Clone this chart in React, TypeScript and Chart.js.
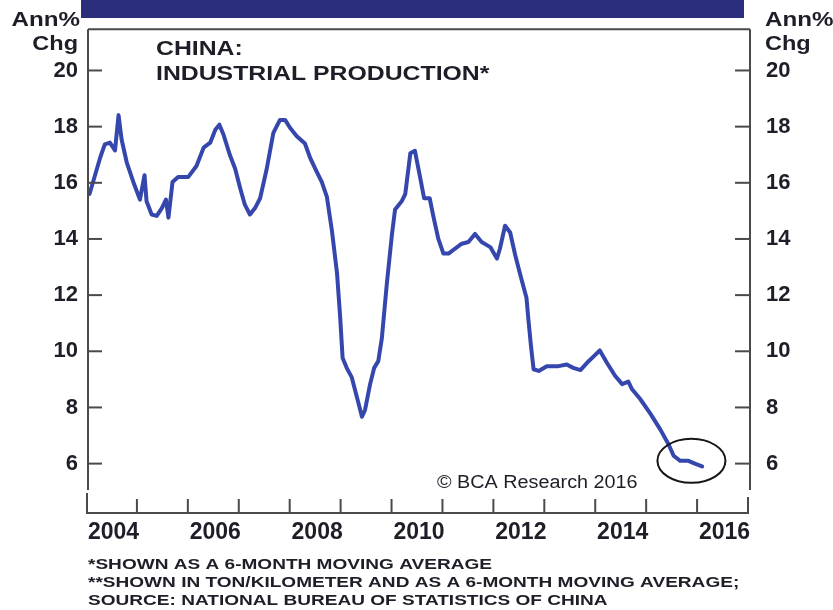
import { useEffect, useRef } from 'react';
import { Chart, registerables } from 'chart.js';

Chart.register(...registerables);

// ---- Data ----
const dates = [
  2004.03, 2004.24, 2004.33, 2004.43, 2004.53, 2004.6, 2004.66, 2004.76, 2004.89,
  2005.02, 2005.11, 2005.15, 2005.25, 2005.35, 2005.45, 2005.53, 2005.58, 2005.66, 2005.77, 2005.97,
  2006.13, 2006.27, 2006.4, 2006.5, 2006.58, 2006.66, 2006.79, 2006.89, 2006.99,
  2007.08, 2007.18, 2007.28, 2007.38, 2007.51, 2007.64, 2007.77, 2007.87, 2007.97,
  2008.1, 2008.26, 2008.36, 2008.49, 2008.59, 2008.69, 2008.79, 2008.89, 2008.95,
  2009.0, 2009.08, 2009.18, 2009.28, 2009.38, 2009.44, 2009.54, 2009.62, 2009.7, 2009.77, 2009.87, 2009.97,
  2010.03, 2010.16, 2010.23, 2010.33, 2010.42, 2010.52, 2010.6, 2010.71, 2010.78, 2010.88, 2010.98,
  2011.08, 2011.21, 2011.34, 2011.47, 2011.6, 2011.73, 2011.9,
  2012.03, 2012.09, 2012.19, 2012.29, 2012.39, 2012.49, 2012.61, 2012.65, 2012.7, 2012.75, 2012.85,
  2013.01, 2013.24, 2013.4, 2013.53, 2013.67, 2013.8, 2013.93,
  2014.05, 2014.19, 2014.35, 2014.49, 2014.61, 2014.68, 2014.84,
  2015.04, 2015.24, 2015.4, 2015.5, 2015.63, 2015.79, 2015.93, 2016.06,
];
const ipGrowth = [
  15.6, 16.9, 17.37, 17.43, 17.15, 18.41, 17.54, 16.73, 16.03,
  15.4, 16.27, 15.34, 14.87, 14.82, 15.1, 15.4, 14.76, 16.03, 16.21, 16.21,
  16.6, 17.25, 17.43, 17.89, 18.07, 17.72, 16.97, 16.5, 15.8,
  15.22, 14.87, 15.1, 15.45, 16.5, 17.78, 18.24, 18.24, 17.95,
  17.66, 17.4, 16.9, 16.4, 16.03, 15.51, 14.29, 12.78, 11.27,
  9.76, 9.41, 9.07, 8.37, 7.67, 7.91, 8.83, 9.41, 9.65, 10.46, 12.44, 14.18,
  15.05, 15.34, 15.6, 17.05, 17.14, 16.21, 15.45, 15.45, 14.82, 14.0, 13.48,
  13.48, 13.66, 13.83, 13.89, 14.18, 13.89, 13.71,
  13.3, 13.66, 14.47, 14.23, 13.42, 12.72, 11.91, 11.1, 10.17, 9.36, 9.3,
  9.47, 9.47, 9.53, 9.41, 9.33, 9.59, 9.82,
  10.03, 9.59, 9.13, 8.83, 8.92, 8.66, 8.31,
  7.79, 7.21, 6.69, 6.28, 6.1, 6.1, 5.99, 5.9,
];
const yTickValues = [6, 8, 10, 12, 14, 16, 18, 20];
const xLabelYears = [2004, 2006, 2008, 2010, 2012, 2014, 2016];
const xTickLabels = ['2004', '2006', '2008', '2010', '2012', '2014', '2016'];
const yearMarks = [2005, 2006, 2007, 2008, 2009, 2010, 2011, 2012, 2013, 2014, 2015, 2016];
const titleLines = ['CHINA:', 'INDUSTRIAL PRODUCTION*'];
const unitLines = ['Ann%', 'Chg'];
const footnotes = [
  '*SHOWN AS A 6-MONTH MOVING AVERAGE',
  '**SHOWN IN TON/KILOMETER AND AS A 6-MONTH MOVING AVERAGE;',
  'SOURCE: NATIONAL BUREAU OF STATISTICS OF CHINA',
];
const copyright = '\u00A9 BCA Research 2016';
const highlight = { x: 2015.85, y: 6.1 };

const Y_MIN = 5.06;
const Y_MAX = 21.47;
const X_MIN = 2004;
const X_MAX = 2017;

const FONT = '"Liberation Sans", Arial, Helvetica, sans-serif';
const LINE_COLOR = '#3547ad';
const AXIS_COLOR = '#4a4a4a';
const TEXT_COLOR = '#1e1e28';
const BAND_COLOR = '#2b2e7c';

function stretchText(
  ctx: CanvasRenderingContext2D,
  text: string,
  x: number,
  y: number,
  font: string,
  sx: number,
  align: CanvasTextAlign = 'left',
) {
  ctx.save();
  ctx.translate(x, y);
  ctx.scale(sx, 1);
  ctx.font = font;
  ctx.textAlign = align;
  ctx.textBaseline = 'alphabetic';
  ctx.fillStyle = TEXT_COLOR;
  ctx.fillText(text, 0, 0);
  ctx.restore();
}

function seg(ctx: CanvasRenderingContext2D, x1: number, y1: number, x2: number, y2: number) {
  ctx.beginPath();
  ctx.moveTo(x1, y1);
  ctx.lineTo(x2, y2);
  ctx.stroke();
}

const decor = {
  id: 'decor',
  beforeDraw(chart: any) {
    const { ctx, width, height } = chart;
    ctx.save();
    ctx.fillStyle = '#ffffff';
    ctx.fillRect(0, 0, width, height);
    ctx.restore();
  },
  afterDraw(chart: any) {
    const { ctx, chartArea: ca, scales } = chart;
    const xs = scales.x;
    const ys = scales.y;
    ctx.save();

    // top band
    ctx.fillStyle = BAND_COLOR;
    ctx.fillRect(81, 0, 663, 18);

    // frame
    ctx.strokeStyle = AXIS_COLOR;
    ctx.lineWidth = 2;
    ctx.lineCap = 'butt';
    seg(ctx, ca.left, ca.top, ca.right, ca.top);
    seg(ctx, ca.left, ca.top, ca.left, ca.bottom);
    seg(ctx, ca.right, ca.top, ca.right, ca.bottom);

    // inward y ticks
    for (const v of yTickValues) {
      const py = ys.getPixelForValue(v);
      seg(ctx, ca.left, py, ca.left + 14, py);
      seg(ctx, ca.right - 15, py, ca.right, py);
    }

    // x-axis box
    const boxY = ca.bottom + 23;
    seg(ctx, ca.left - 2, boxY, ca.right - 1, boxY);
    seg(ctx, ca.left - 1, ca.bottom + 3, ca.left - 1, boxY);
    seg(ctx, ca.right - 2, ca.bottom + 7, ca.right - 2, boxY);
    for (const yr of yearMarks) {
      const px = xs.getPixelForValue(yr) - 2;
      seg(ctx, px, ca.bottom + 9, px, boxY);
    }

    // unit labels
    const unitFont = `bold 21px ${FONT}`;
    stretchText(ctx, unitLines[0], 80, 26, unitFont, 1.15, 'right');
    stretchText(ctx, unitLines[1], 78, 50, unitFont, 1.12, 'right');
    stretchText(ctx, unitLines[0], 765, 26, unitFont, 1.15, 'left');
    stretchText(ctx, unitLines[1], 765, 50, unitFont, 1.12, 'left');

    // title
    const titleFont = `bold 20px ${FONT}`;
    stretchText(ctx, titleLines[0], 156, 55, titleFont, 1.24);
    stretchText(ctx, titleLines[1], 156, 80, titleFont, 1.24);

    // copyright
    stretchText(ctx, copyright, 437, 488, `18px ${FONT}`, 1.1);

    // footnotes
    const fnFont = `bold 15px ${FONT}`;
    footnotes.forEach((t, i) => stretchText(ctx, t, 88, 569 + i * 18, fnFont, 1.27));

    // highlight ellipse
    const cx = xs.getPixelForValue(highlight.x);
    const cy = ys.getPixelForValue(highlight.y);
    ctx.strokeStyle = '#151515';
    ctx.lineWidth = 2;
    ctx.beginPath();
    ctx.ellipse(cx, cy, 34, 22, 0, 0, Math.PI * 2);
    ctx.stroke();

    ctx.restore();
  },
};

export default function App() {
  const ref = useRef<HTMLCanvasElement | null>(null);

  useEffect(() => {
    const canvas = ref.current;
    if (!canvas) return;
    const tickFont = { family: FONT, size: 22, weight: 'bold' as const };
    const yAxis = (position: 'left' | 'right', width: number, padding: number) => ({
      type: 'linear' as const,
      position,
      min: Y_MIN,
      max: Y_MAX,
      afterBuildTicks: (s: any) => {
        s.ticks = yTickValues.map((v) => ({ value: v }));
      },
      afterFit: (s: any) => {
        s.width = width;
      },
      grid: { display: false, drawTicks: false, drawOnChartArea: false },
      border: { display: false },
      ticks: {
        padding,
        color: TEXT_COLOR,
        font: tickFont,
        callback: (v: any) => String(v),
      },
    });

    const chart = new Chart(canvas, {
      type: 'line',
      data: {
        datasets: [
          {
            data: dates.map((d, i) => ({ x: d, y: ipGrowth[i] })),
            borderColor: LINE_COLOR,
            borderWidth: 4,
            pointRadius: 0,
            tension: 0,
            borderJoinStyle: 'round',
            borderCapStyle: 'round',
            yAxisID: 'y',
            xAxisID: 'x',
          },
        ],
      },
      options: {
        animation: false,
        responsive: false,
        maintainAspectRatio: false,
        layout: { padding: { top: 19, left: 0, right: 0, bottom: 0 } },
        plugins: {
          legend: { display: false },
          tooltip: { enabled: false },
          title: { display: false },
        },
        scales: {
          x: {
            type: 'linear',
            position: 'bottom',
            min: X_MIN,
            max: X_MAX,
            afterBuildTicks: (s: any) => {
              s.ticks = xLabelYears.map((v) => ({ value: v + 0.5 }));
            },
            afterFit: (s: any) => {
              s.height = 120;
            },
            grid: { display: false, drawTicks: false },
            border: { display: false },
            ticks: {
              autoSkip: false,
              maxRotation: 0,
              padding: 29,
              color: TEXT_COLOR,
              font: { family: FONT, size: 23, weight: 'bold' },
              callback: (_v: any, i: number) => xTickLabels[i],
            },
          },
          y: yAxis('left', 88, 10),
          y2: yAxis('right', 83, 16),
        },
      } as any,
      plugins: [decor],
    });
    return () => chart.destroy();
  }, []);

  return (
    <div style={{ position: 'fixed', left: 0, top: 0, width: 833, height: 610, background: '#fff' }}>
      <canvas ref={ref} width={833} height={610} style={{ display: 'block', width: 833, height: 610 }} />
    </div>
  );
}
